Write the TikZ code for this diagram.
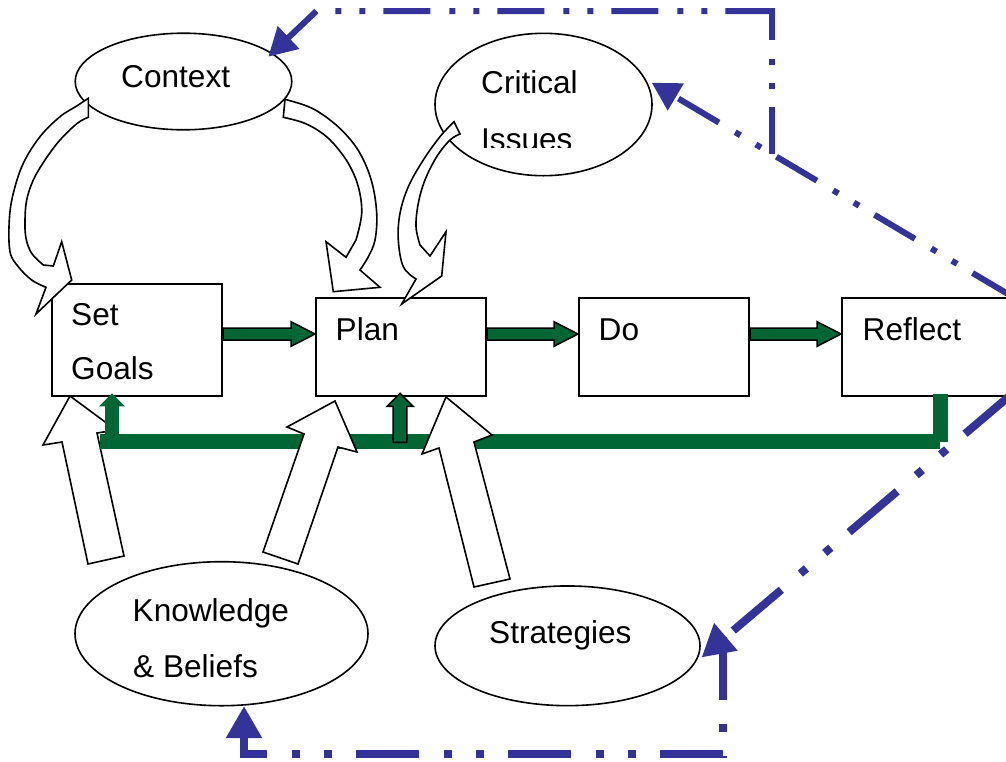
\documentclass[tikz,border=0pt]{standalone}
\usepackage{fontspec}
\setmainfont{Liberation Sans}
\usetikzlibrary{arrows.meta,calc,shapes.geometric}
\definecolor{pblue}{RGB}{51,51,153}
\definecolor{pgreen}{RGB}{0,102,51}
\newcommand\gharrow[2]{\draw[gblock] ($(#1)+(0,-6)$) -- ($(#2)+(-24,-6)$) -- ($(#2)+(-24,-12.3)$) -- (#2) -- ($(#2)+(-24,12.3)$) -- ($(#2)+(-24,6)$) -- ($(#1)+(0,6)$) -- cycle;}
\newcommand\gvarrow[3]{\path[#1] ($(#2)+(-6.8,0)$) -- ($(#3)+(-6.8,13)$) -- ($(#3)+(-13,13)$) -- (#3) -- ($(#3)+(13,13)$) -- ($(#3)+(6.8,13)$) -- ($(#2)+(6.8,0)$) -- cycle;}
\begin{document}
\begin{tikzpicture}[x=1pt,y=-1pt,
  box/.style={draw=black,line width=2pt,fill=white,rectangle,inner sep=0pt},
  oval/.style={draw=black,line width=1.6pt,fill=white,ellipse,inner sep=0pt},
  lbl/.style={anchor=base west,inner sep=0pt,font=\fontsize{31.6}{38}\selectfont},
  wblock/.style={draw=black,line width=1.6pt,fill=white},
  gblock/.style={draw=black,line width=1.5pt,fill=pgreen},
  bthin/.style={draw=pblue,line width=6pt,dash pattern=on 47pt off 18pt on 6pt off 18pt on 6pt off 19pt},
  bthick/.style={draw=pblue,line width=8pt,dash pattern=on 63pt off 24pt on 8pt off 24pt on 8pt off 25pt},
  tipthin/.style={-{Triangle[length=28pt,width=30pt]}},
  tipthick/.style={-{Triangle[length=32pt,width=34pt]}}]
\clip (0,0) rectangle (1006,761);
\fill[white] (0,0) rectangle (1006,761);
% ellipses
\node[oval,minimum width=216.6pt,minimum height=96.6pt] (ctx) at (183.5,81.5) {};
\node[oval,minimum width=217pt,minimum height=142.4pt] (crit) at (543.5,104.5) {};
\node[oval,minimum width=293pt,minimum height=144pt] (kb) at (221.5,633.7) {};
\node[oval,minimum width=265pt,minimum height=119.7pt] (strat) at (567.5,645.8) {};
% boxes
\node[box,minimum width=170pt,minimum height=112pt] (sg) at (137,340) {};
\node[box,minimum width=170pt,minimum height=98pt] (plan) at (401,347) {};
\node[box,minimum width=170pt,minimum height=98pt] (do) at (664,347) {};
\node[box,minimum width=170pt,minimum height=98pt] (refl) at (927,347) {};
% texts
\node[lbl] (tctx) at (121,87.7) {Context};
\node[lbl] (tcrit) at (481,93.3) {Critical};
\begin{scope}
\clip (440,60) rectangle (640,147);
\node[lbl] (tiss) at (481,150.5) {Issues};
\end{scope}
\node[lbl] (tset) at (71,325.7) {Set};
\node[lbl] (tgoals) at (71,379.3) {Goals};
\node[lbl] (tplan) at (335.5,340) {Plan};
\node[lbl] (tdo) at (598.5,340) {Do};
\node[lbl] (trefl) at (862.5,340) {Reflect};
\node[lbl] (tk) at (132.5,621.7) {Knowledge};
\node[lbl] (tb) at (133,677.7) {\& Beliefs};
\node[lbl] (tstrat) at (489,643) {Strategies};
% white arrow: knowledge -> set goals
\filldraw[wblock] (70,396) -- (116,430) -- (97,433) -- (124,556) -- (88,564) -- (62,442) -- (43,445) -- cycle;
% green feedback
\fill[pgreen] (100,434) rectangle (940,449.3);
\fill[pgreen] (932.5,394) rectangle (947.5,442);
\coordinate (row) at (0,334);
\gharrow{sg.east|-row}{plan.west|-row}
\gharrow{plan.east|-row}{do.west|-row}
\gharrow{do.east|-row}{refl.west|-row}
\coordinate (sgtip) at (112,393.3);
\coordinate (sgbase) at (112,436);
\gvarrow{fill=pgreen}{sgbase}{sgtip}
\coordinate (pltip) at (400,393.3);
\coordinate (plbase) at (400,442.3);
\gvarrow{gblock}{plbase}{pltip}
% white arrows: knowledge -> plan, strategies -> plan
\filldraw[wblock] (335,401) -- (357,452) -- (338,447) -- (298,564) -- (263,552) -- (304,434) -- (287,427) -- cycle;
\filldraw[wblock] (446,397) -- (492,435) -- (474,442) -- (510,579) -- (474,587) -- (439,448) -- (422,454) -- cycle;
% curved arrows
\filldraw[wblock] plot[smooth,tension=0.6] coordinates {(88.3,98.3) (76.7,106) (60,116.7) (40,136.7) (23.3,163.3) (13.3,193.3) (9.3,220) (10,251.7) (18.3,266.7) (31.7,280) (46,287.3)} -- (36,314) -- (71.7,280) -- (61.7,241.7) -- (53.3,266) -- plot[smooth,tension=0.6] coordinates {(43.3,265) (31.7,253.3) (26,238.3) (25,220) (26.7,200) (33.3,180) (45,160) (60,140) (77.3,123.3) (88.3,117.3)} -- cycle;
\filldraw[wblock] plot[smooth,tension=0.6] coordinates {(285,99.3) (306.7,106) (323.3,115) (343.3,131.7) (360,153.3) (371.7,181.7) (376.7,213.3) (375,240) (368.3,256.7) (360,270)} -- (380,287.3) -- (333.3,291.7) -- (326,241.7) -- (346,257.3) -- plot[smooth,tension=0.6] coordinates {(356,240) (361.7,213.3) (358.3,186.7) (348.3,163.3) (333.3,143.3) (320,131.7) (303.3,122.7) (283.3,117.3)} -- cycle;
\filldraw[wblock] plot[smooth,tension=0.6] coordinates {(454,121.7) (440,136.7) (423.3,160) (408.3,186.7) (400,213.3) (398.3,240) (403.3,266.7) (416,279)} -- (401.7,304) -- (441.7,276) -- (446,231.7) -- (430,256) -- plot[smooth,tension=0.6] coordinates {(420,245) (416,226.7) (418.3,203.3) (425,180) (436.7,156.7) (450,140) (460,134)} -- cycle;
% blue dash-dot connectors
\coordinate (critIn) at (651.7,82.7);
\coordinate (ctxIn) at (268.3,56.7);
\coordinate (topy) at (0,11);
\coordinate (tl) at (316.5,11);
\coordinate (brk) at ($(refl.north east)!0.666!(critIn)$);
\draw[bthin,tipthin] (refl.north east) -- (critIn);
\draw[bthin] (brk) -- ($(brk|-topy)+(0,-3)$);
\draw[bthin,tipthin] (brk|-topy) -- (tl) -- (ctxIn);
\coordinate (rbr) at ($(refl.south east)+(0,-4)$);
\coordinate (stratIn) at (701.5,657.5);
\coordinate (lv) at (723.3,637);
\coordinate (boty) at (0,753.5);
\coordinate (kbIn) at (244,706);
\draw[bthick,tipthick] (rbr) -- (stratIn);
\draw[bthick] (lv) -- ($(lv|-boty)+(0,4)$);
\draw[bthick,tipthick] (lv|-boty) -- (kbIn|-boty) -- (kbIn);
\end{tikzpicture}
\end{document}
